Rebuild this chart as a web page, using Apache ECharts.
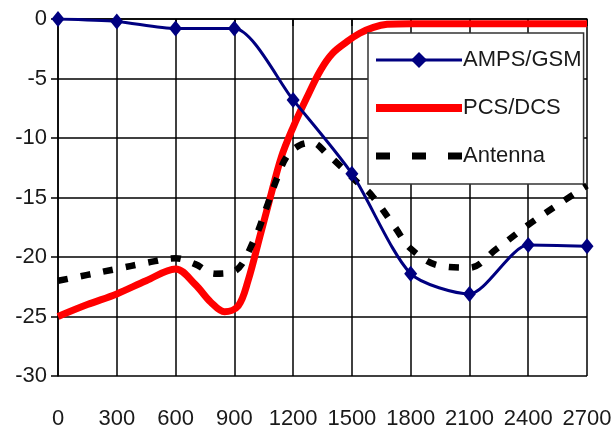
<!DOCTYPE html>
<html>
<head>
<meta charset="utf-8">
<script src="https://cdn.jsdelivr.net/npm/echarts@6/dist/echarts.min.js"></script>
<style>
html,body{margin:0;padding:0;background:#fff;}
#chart{width:615px;height:430px;}
</style>
</head>
<body>
<div id="chart"></div>
<script>
const xTicks = [0, 300, 600, 900, 1200, 1500, 1800, 2100, 2400, 2700];
const yTicks = [0, -5, -10, -15, -20, -25, -30];

const ampsX = [0, 300, 600, 900, 1200, 1500, 1800, 2100, 2400, 2700];
const ampsY = [0, -0.2, -0.8, -0.8, -6.8, -13, -21.4, -23.1, -19.0, -19.1];

const pcsX = [0, 150, 300, 450, 600, 700, 780, 850, 920, 970, 1030, 1080, 1140, 1200, 1270, 1340, 1400, 1475, 1540, 1610, 1680, 1800, 2100, 2400, 2700];
const pcsY = [-25, -24, -23.1, -22, -21, -22.3, -23.8, -24.6, -24.1, -22, -18.3, -15.2, -11.6, -9.1, -6.6, -4.3, -2.9, -1.9, -1.2, -0.7, -0.45, -0.4, -0.4, -0.4, -0.4];

const antX = [0, 150, 300, 450, 600, 700, 800, 900, 1000, 1065, 1120, 1170, 1235, 1300, 1370, 1450, 1520, 1600, 1720, 1800, 1940, 2100, 2240, 2400, 2570, 2700];
const antY = [-22, -21.5, -21, -20.5, -20.1, -20.6, -21.4, -21.2, -18.6, -15.8, -13.3, -11.5, -10.6, -10.4, -11.3, -12.5, -13.6, -14.8, -17.5, -19.3, -20.7, -20.9, -19.3, -17.3, -15.4, -14];

const names = ['AMPS/GSM', 'PCS/DCS', 'Antenna'];
const zip = (xs, ys) => xs.map((x, i) => [x, ys[i]]);
const FONT = 'Liberation Sans, Arial, sans-serif';

const chart = echarts.init(document.getElementById('chart'));
chart.setOption({
  animation: false,
  backgroundColor: '#fff',
  grid: { left: 58, right: 28, top: 19, bottom: 54, containLabel: false },
  xAxis: {
    type: 'value', min: xTicks[0], max: xTicks[xTicks.length - 1], interval: 300,
    axisLine: { show: true, lineStyle: { color: '#000', width: 1.5 } },
    axisTick: { show: true, inside: false, length: 7, lineStyle: { color: '#000', width: 1.5 } },
    axisLabel: { margin: 32, color: '#1a1a1a', fontSize: 22, fontFamily: FONT, formatter: v => String(v) },
    splitLine: { show: true, lineStyle: { color: '#000', width: 1.5 } }
  },
  yAxis: {
    type: 'value', min: yTicks[yTicks.length - 1], max: yTicks[0], interval: 5,
    axisLine: { show: true, lineStyle: { color: '#000', width: 1.5 } },
    axisTick: { show: true, inside: false, length: 7, lineStyle: { color: '#000', width: 1.5 } },
    axisLabel: { margin: 11, color: '#1a1a1a', fontSize: 22, fontFamily: FONT },
    splitLine: { show: true, lineStyle: { color: '#000', width: 1.5 } }
  },
  legend: {
    orient: 'vertical', left: 368, top: 33,
    backgroundColor: '#fff', borderColor: '#333', borderWidth: 1.5,
    padding: [16, 2, 17, 4],
    itemWidth: 86, itemHeight: 20, itemGap: 26,
    textStyle: { fontSize: 22, color: '#1a1a1a', fontFamily: FONT, padding: [0, 0, 0, -4] },
    data: [
      { name: names[0], lineStyle: { width: 3, color: '#000080' }, itemStyle: { color: '#000080' } },
      { name: names[1], lineStyle: { width: 8, color: '#ff0000' }, itemStyle: { opacity: 0 } },
      { name: names[2], lineStyle: { width: 7, color: '#000', type: [14, 22] }, itemStyle: { opacity: 0 } }
    ]
  },
  series: [
    {
      name: names[1], type: 'line', data: zip(pcsX, pcsY), smooth: 0.35,
      showSymbol: false, symbol: 'none', z: 3,
      lineStyle: { color: '#ff0000', width: 7 }, itemStyle: { color: '#ff0000' }
    },
    {
      name: names[2], type: 'line', data: zip(antX, antY), smooth: 0.35,
      showSymbol: false, symbol: 'none', z: 4,
      lineStyle: { color: '#000', width: 6.5, type: [10, 13] }, itemStyle: { color: '#000' }
    },
    {
      name: names[0], type: 'line', data: zip(ampsX, ampsY), smooth: 0.25,
      symbol: 'diamond', symbolSize: [13, 16], z: 5,
      lineStyle: { color: '#000080', width: 3 }, itemStyle: { color: '#000080' }
    }
  ]
});
</script>
</body>
</html>
